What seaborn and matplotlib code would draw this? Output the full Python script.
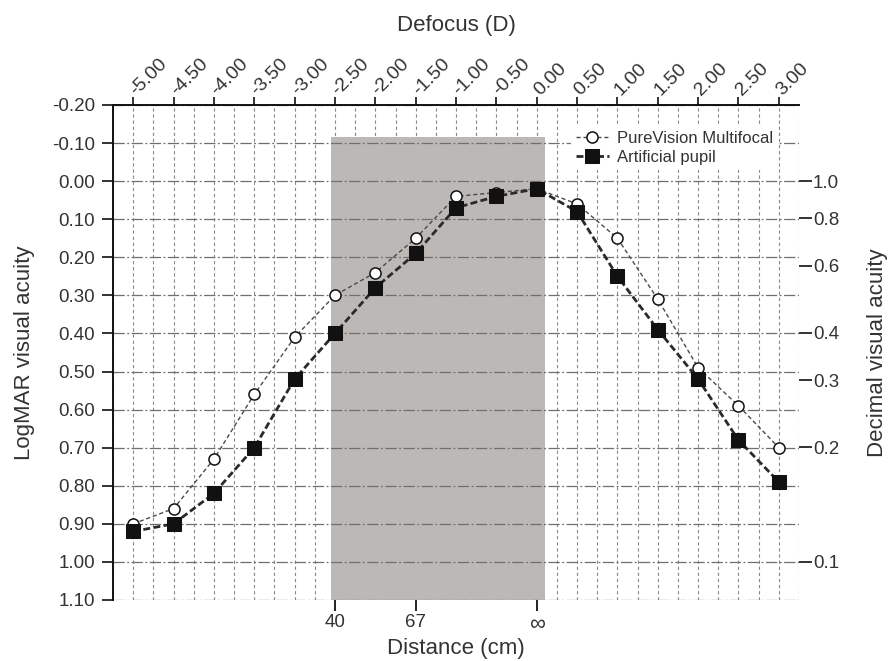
import numpy as np
import pandas as pd
import matplotlib
matplotlib.use("Agg")
import matplotlib.pyplot as plt
from matplotlib.ticker import MultipleLocator
import seaborn as sns

# Defocus steps (D) and LogMAR acuity for each condition
defocus = [-5.0, -4.5, -4.0, -3.5, -3.0, -2.5, -2.0, -1.5, -1.0, -0.5,
           0.0, 0.5, 1.0, 1.5, 2.0, 2.5, 3.0]
purevision = [0.90, 0.86, 0.73, 0.56, 0.41, 0.30, 0.24, 0.15, 0.04, 0.03,
              0.02, 0.06, 0.15, 0.31, 0.49, 0.59, 0.70]
artificial = [0.92, 0.90, 0.82, 0.70, 0.52, 0.40, 0.28, 0.19, 0.07, 0.04,
              0.02, 0.08, 0.25, 0.39, 0.52, 0.68, 0.79]

# Viewing distance marks (defocus position -> cm label)
distance_ticks = [-2.5, -1.5, 0.0]
distance_labels = ["40", "67", "\u221e"]

# Decimal acuity scale shown on the right
decimal_values = [1.0, 0.8, 0.6, 0.4, 0.3, 0.2, 0.1]
decimal_labels = ["1.0", "0.8", "0.6", "0.4", "0.3", "0.2", "0.1"]

# Shaded intermediate/near zone
zone_x = [-2.55, 0.10]
zone_top = -0.115

df = pd.DataFrame({"defocus": defocus, "pv": purevision, "ap": artificial})

sns.set_theme(style="white")
plt.rcParams["font.family"] = ["Liberation Sans", "DejaVu Sans"]
text_color = "#333333"
tick_fs = 13.5
label_fs = 16

fig = plt.figure(figsize=(8.88, 6.61), dpi=100)
ax = fig.add_axes([0.1273, 0.0923, 0.7725, 0.7489])

ax.set_xlim(-5.25, 3.25)
ax.set_ylim(1.10, -0.20)

# shaded zone
ax.fill_between(zone_x, zone_top, 1.10, color="#bcb8b5", linewidth=0, zorder=1)

sns.lineplot(data=df, x="defocus", y="pv", ax=ax, color="#4a4a4a",
             linewidth=1.0, linestyle=(0, (3, 2)), marker="o", markersize=8,
             markerfacecolor="white", markeredgecolor="#111111",
             markeredgewidth=1.1, label="PureVision Multifocal", zorder=3)
sns.lineplot(data=df, x="defocus", y="ap", ax=ax, color="#2a2a2a",
             linewidth=2.0, linestyle=(0, (2.5, 1.2)), marker="s", markersize=9.5,
             markerfacecolor="#111111", markeredgecolor="#111111",
             label="Artificial pupil", zorder=4)

# top defocus axis
ax.xaxis.tick_top()
ax.xaxis.set_label_position("top")
ax.xaxis.set_minor_locator(MultipleLocator(0.25))
ax.set_xticks(np.arange(-5.0, 3.01, 0.5))
ax.set_xticklabels([f"{v:.2f}" for v in np.arange(-5.0, 3.01, 0.5)],
                   rotation=45, ha="left", va="center", rotation_mode="anchor",
                   fontsize=14, color=text_color)
ax.tick_params(axis="x", which="major", direction="out", length=6, width=1.2,
               color="#111111", pad=3)
ax.tick_params(axis="x", which="minor", length=0)
ax.set_xlabel("Defocus (D)", fontsize=label_fs, color=text_color)
ax.xaxis.set_label_coords(0.5, 1.150)

# left LogMAR axis
ax.set_yticks(np.round(np.arange(-0.2, 1.101, 0.1), 2))
ax.set_yticklabels([f"{v:.2f}" for v in np.arange(-0.2, 1.101, 0.1)],
                   fontsize=tick_fs, color=text_color)
ax.tick_params(axis="y", direction="out", length=8, width=1.2,
               color="#111111", left=True, pad=5)
ax.set_ylabel("LogMAR visual acuity", fontsize=label_fs, color=text_color)
ax.yaxis.set_label_coords(-0.114, 0.5)

# grids: vertical under the shading, horizontal above it
ax.set_axisbelow(True)
ax.grid(axis="x", which="both", color="#8a8a8a", linewidth=0.8,
        linestyle=(0, (3, 2.5)))
ax.grid(axis="y", which="major", color="#6f6f6f", linewidth=0.9,
        linestyle=(0, (9, 2, 1.5, 2)))
ax.xaxis.set_zorder(0.5)
ax.yaxis.set_zorder(1.5)

for side in ["bottom", "right"]:
    ax.spines[side].set_visible(False)
for side in ["top", "left"]:
    ax.spines[side].set_color("#111111")
    ax.spines[side].set_linewidth(1.4)
    ax.spines[side].set_zorder(5)

# bottom distance axis
sec_x = ax.secondary_xaxis("bottom")
sec_x.set_xticks(distance_ticks)
sec_x.set_xticklabels(distance_labels, fontsize=tick_fs, color=text_color)
for lbl in sec_x.get_xticklabels():
    if lbl.get_text() == "\u221e":
        lbl.set_fontsize(16)
sec_x.tick_params(direction="out", length=8, width=1.3, color="#111111", pad=2)
sec_x.spines["bottom"].set_visible(False)
sec_x.set_xlabel("Distance (cm)", fontsize=label_fs, color=text_color,
                 labelpad=2)

# right decimal acuity axis
sec_y = ax.secondary_yaxis("right")
sec_y.set_yticks(-np.log10(decimal_values))
sec_y.set_yticklabels(decimal_labels, fontsize=tick_fs, color=text_color)
sec_y.tick_params(direction="out", length=9, width=1.2, color="#111111", pad=1)
sec_y.spines["right"].set_visible(False)
sec_y.set_ylabel("Decimal visual acuity", fontsize=label_fs, color=text_color,
                 labelpad=20)

leg = ax.legend(loc="upper left", bbox_to_anchor=(0.667, 0.958), frameon=True,
                facecolor="white", edgecolor="none", framealpha=1.0,
                fontsize=12, handlelength=2.0, borderpad=0.3,
                labelspacing=0.25, handletextpad=0.5, borderaxespad=0)
for t in leg.get_texts():
    t.set_color(text_color)
leg.set_zorder(6)

fig.savefig("out.png", dpi=100, facecolor="white")
